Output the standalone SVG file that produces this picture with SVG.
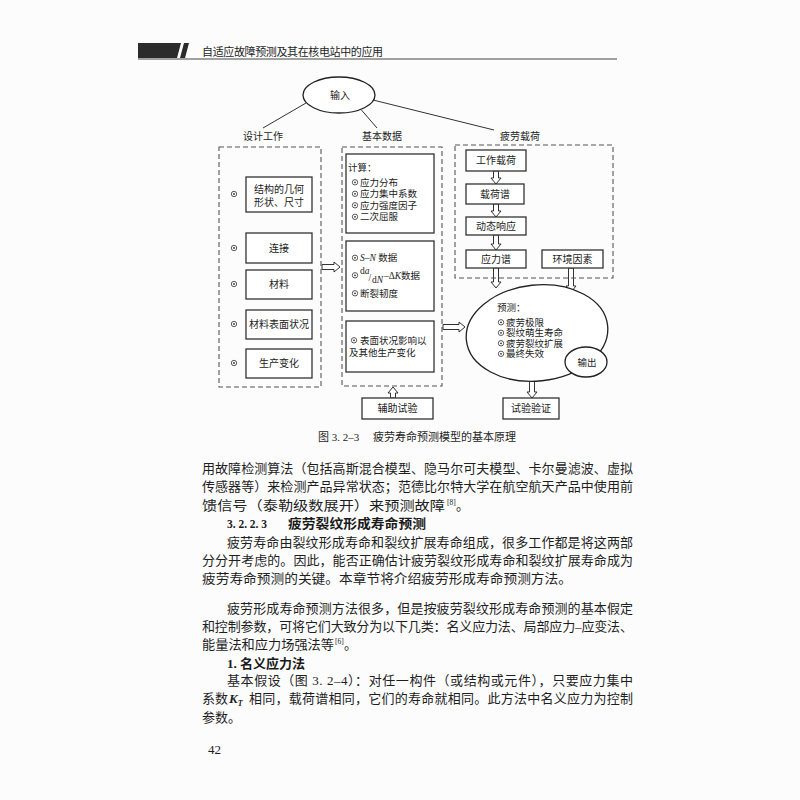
<svg xmlns="http://www.w3.org/2000/svg" width="800" height="800" viewBox="0 0 800 800">
  <style>
    .t { font-family: "Liberation Serif", "Noto Sans CJK SC", serif; fill: #1e1e1e; }
    .d { font-family: "Liberation Serif", "Noto Sans CJK SC", serif; fill: #222; font-size: 10px; }
    .ds { font-family: "Liberation Serif", "Noto Sans CJK SC", serif; fill: #222; font-size: 9.5px; }
    .dp { font-family: "Liberation Serif", "Noto Sans CJK SC", serif; fill: #222; font-size: 9.5px; }
    .h { font-family: "Liberation Serif", "Noto Sans CJK SC", serif; font-weight: bold; fill: #1a1a1a; }
    .box { fill: #fff; stroke: #333; stroke-width: 1.3; }
    .dash { fill: none; stroke: #555; stroke-width: 1.1; stroke-dasharray: 5 3; }
    .ln { stroke: #333; stroke-width: 1; fill: none; }
    .arr { fill: #fff; stroke: #333; stroke-width: 1; stroke-linejoin: miter; }
    .ell { fill: #fff; stroke: #222; stroke-width: 1.3; }
    .bo { fill: none; stroke: #333; stroke-width: 0.8; }
    .bi { fill: #333; }
  </style>
  <defs>
    <g id="bul">
      <circle class="bo" cx="0" cy="0" r="2.7"/>
      <circle class="bi" cx="0" cy="0" r="0.9"/>
    </g>
  </defs>
  <rect x="0" y="0" width="800" height="800" fill="#fcfcfc"/>

  <!-- page header -->
  <g id="header">
    <polygon points="138,43 181,43 177,58 138,58" fill="#2b2b2b"/>
    <polygon points="184,43 189,43 185,58 180,58" fill="#2b2b2b"/>
    <line x1="138" y1="59" x2="617" y2="59" stroke="#444" stroke-width="1.1"/>
    <text class="t" x="202" y="56" font-size="11" textLength="181" lengthAdjust="spacing">自适应故障预测及其在核电站中的应用</text>
  </g>

  <!-- connectors -->
  <g id="connectors">
    <line class="ln" x1="306" y1="103" x2="263" y2="128"/>
    <line class="ln" x1="361" y1="109.5" x2="377" y2="128"/>
    <line class="ln" x1="373" y1="100" x2="494" y2="130"/>
    <polygon class="arr" points="322,264.5 322,269.5 334,269.5 334,272 340,267 334,262 334,264.5"/>
    <polygon class="arr" points="443,324.5 443,329.5 459,329.5 459,332 465,327 459,322 459,324.5"/>
    <polygon class="arr" points="390.5,398 395.5,398 395.5,393 398,393 393,387 388,393 390.5,393"/>
    <polygon class="arr" points="493.5,171 498.5,171 498.5,178 501,178 496,184 491,178 493.5,178"/>
    <polygon class="arr" points="493.5,204 498.5,204 498.5,211 501,211 496,217 491,211 493.5,211"/>
    <polygon class="arr" points="493.5,235 498.5,235 498.5,244 501,244 496,250 491,244 493.5,244"/>
    <polygon class="arr" points="493.5,268 498.5,268 498.5,282 501,282 496,288 491,282 493.5,282"/>
    <polygon class="arr" points="568.5,268 573.5,268 573.5,286 576,286 571,292 566,286 568.5,286"/>
    <polygon class="arr" points="529.5,381 534.5,381 534.5,392 537,392 532,398 527,392 529.5,392"/>
  </g>

  <!-- input -->
  <g id="input">
    <ellipse class="ell" cx="339" cy="95" rx="36" ry="18"/>
    <text class="d" x="340" y="99" text-anchor="middle">输入</text>
  </g>

  <g id="labels">
    <text class="d" x="263" y="140" text-anchor="middle">设计工作</text>
    <text class="d" x="382" y="140" text-anchor="middle">基本数据</text>
    <text class="d" x="520" y="140" text-anchor="middle">疲劳载荷</text>
  </g>

  <!-- design work column -->
  <g id="design">
    <rect class="dash" x="219" y="147" width="102" height="240"/>
    <g id="d1">
      <use href="#bul" x="234" y="194"/>
      <rect class="box" x="246" y="177" width="66" height="35"/>
      <text class="d" x="279" y="193" text-anchor="middle">结构的几何</text>
      <text class="d" x="279" y="206" text-anchor="middle">形状、尺寸</text>
    </g>
    <g id="d2">
      <use href="#bul" x="234" y="248"/>
      <rect class="box" x="246" y="233" width="66" height="30"/>
      <text class="d" x="279" y="251.5" text-anchor="middle">连接</text>
    </g>
    <g id="d3">
      <use href="#bul" x="234" y="284"/>
      <rect class="box" x="246" y="270" width="66" height="29"/>
      <text class="d" x="279" y="288" text-anchor="middle">材料</text>
    </g>
    <g id="d4">
      <use href="#bul" x="234" y="324"/>
      <rect class="box" x="246" y="310" width="66" height="29"/>
      <text class="d" x="279" y="328" text-anchor="middle">材料表面状况</text>
    </g>
    <g id="d5">
      <use href="#bul" x="234" y="363"/>
      <rect class="box" x="246" y="349" width="66" height="29"/>
      <text class="d" x="279" y="367" text-anchor="middle">生产变化</text>
    </g>
  </g>

  <!-- basic data column -->
  <g id="basic">
    <rect class="dash" x="342" y="147" width="100" height="239"/>
    <g id="calc">
      <rect class="box" x="346" y="154" width="88" height="79"/>
      <text class="ds" x="348" y="171">计算：</text>
      <use href="#bul" x="355" y="182.3"/>
      <text class="ds" x="360" y="185.5">应力分布</text>
      <use href="#bul" x="355" y="193.8"/>
      <text class="ds" x="360" y="197">应力集中系数</text>
      <use href="#bul" x="355" y="205.3"/>
      <text class="ds" x="360" y="208.5">应力强度因子</text>
      <use href="#bul" x="355" y="216.8"/>
      <text class="ds" x="360" y="220">二次屈服</text>
    </g>
    <g id="sn">
      <rect class="box" x="346" y="241" width="88" height="70"/>
      <use href="#bul" x="355" y="257.8"/>
      <text class="ds" x="360" y="261"><tspan font-style="italic">S</tspan>–<tspan font-style="italic">N</tspan> 数据</text>
      <use href="#bul" x="355" y="275.3"/>
      <text class="ds" x="360" y="274" font-size="7">d<tspan font-style="italic">a</tspan></text>
      <text class="ds" x="368.5" y="281" font-size="10">/</text>
      <text class="ds" x="372" y="283" font-size="7">d<tspan font-style="italic">N</tspan></text>
      <text class="ds" x="384" y="278.5" font-size="8">–Δ<tspan font-style="italic">K</tspan></text>
      <text class="ds" x="401" y="278.5">数据</text>
      <use href="#bul" x="355" y="293.3"/>
      <text class="ds" x="360" y="296.5">断裂韧度</text>
    </g>
    <g id="surface">
      <rect class="box" x="346" y="321" width="88" height="51"/>
      <use href="#bul" x="354" y="340.3"/>
      <text class="ds" x="360" y="343.5">表面状况影响以</text>
      <text class="ds" x="349" y="355.5">及其他生产变化</text>
    </g>
  </g>

  <!-- fatigue load column -->
  <g id="load">
    <rect class="dash" x="455" y="145" width="158" height="133"/>
    <g id="l1">
      <rect class="box" x="466" y="150" width="60" height="21"/>
      <text class="d" x="496" y="164" text-anchor="middle">工作载荷</text>
    </g>
    <g id="l2">
      <rect class="box" x="466" y="184" width="58" height="20"/>
      <text class="d" x="495" y="197.5" text-anchor="middle">载荷谱</text>
    </g>
    <g id="l3">
      <rect class="box" x="466" y="217" width="60" height="18"/>
      <text class="d" x="496" y="229.5" text-anchor="middle">动态响应</text>
    </g>
    <g id="l4">
      <rect class="box" x="466" y="250" width="60" height="18"/>
      <text class="d" x="496" y="262.5" text-anchor="middle">应力谱</text>
    </g>
    <g id="env">
      <rect class="box" x="542" y="250" width="61" height="18"/>
      <text class="d" x="572.5" y="262.5" text-anchor="middle">环境因素</text>
    </g>
  </g>

  <!-- prediction -->
  <g id="prediction">
    <ellipse class="ell" cx="537" cy="333" rx="71" ry="48" transform="rotate(-6 537 333)"/>
    <text class="dp" x="497" y="310.5">预测：</text>
    <use href="#bul" x="501" y="322.3"/>
    <text class="dp" x="506" y="325.5">疲劳极限</text>
    <use href="#bul" x="501" y="332.8"/>
    <text class="dp" x="506" y="336">裂纹萌生寿命</text>
    <use href="#bul" x="501" y="343.3"/>
    <text class="dp" x="506" y="346.5">疲劳裂纹扩展</text>
    <use href="#bul" x="501" y="353.8"/>
    <text class="dp" x="506" y="357">最终失效</text>
  </g>
  <g id="output">
    <ellipse class="ell" cx="586" cy="362" rx="21" ry="15"/>
    <text class="dp" x="587" y="365.5" text-anchor="middle">输出</text>
  </g>

  <g id="aux">
    <rect class="box" x="362" y="398" width="71" height="21"/>
    <text class="d" x="397.5" y="412" text-anchor="middle">辅助试验</text>
  </g>
  <g id="verify">
    <rect class="box" x="503" y="398" width="56" height="21"/>
    <text class="d" x="531" y="412" text-anchor="middle">试验验证</text>
  </g>

  <g id="caption">
    <text class="t" x="318" y="441" font-size="11">图 3. 2–3　 疲劳寿命预测模型的基本原理</text>
  </g>

  <!-- body text -->
  <g id="body" font-size="13">
    <text class="t" x="202" y="472.5" textLength="431" lengthAdjust="spacing">用故障检测算法（包括高斯混合模型、隐马尔可夫模型、卡尔曼滤波、虚拟</text>
    <text class="t" x="202" y="491" textLength="431" lengthAdjust="spacing">传感器等）来检测产品异常状态；范德比尔特大学在航空航天产品中使用前</text>
    <text class="t" x="202" y="509.5" textLength="243" lengthAdjust="spacingAndGlyphs">馈信号（泰勒级数展开）来预测故障</text>
    <text class="t" x="447" y="504.5" font-size="7.5">[8]</text>
    <text class="t" x="456" y="509.5">。</text>
    <text class="h" x="227" y="528" font-size="12.5" textLength="40" lengthAdjust="spacingAndGlyphs">3. 2. 2. 3</text>
    <text class="h" x="288" y="528" font-size="13" textLength="138" lengthAdjust="spacingAndGlyphs">疲劳裂纹形成寿命预测</text>
    <text class="t" x="227" y="546.5" textLength="406" lengthAdjust="spacing">疲劳寿命由裂纹形成寿命和裂纹扩展寿命组成，很多工作都是将这两部</text>
    <text class="t" x="202" y="564.5" textLength="431" lengthAdjust="spacing">分分开考虑的。因此，能否正确估计疲劳裂纹形成寿命和裂纹扩展寿命成为</text>
    <text class="t" x="202" y="582.5" textLength="370" lengthAdjust="spacingAndGlyphs">疲劳寿命预测的关键。本章节将介绍疲劳形成寿命预测方法。</text>
    <text class="t" x="227" y="612.5" textLength="406" lengthAdjust="spacing">疲劳形成寿命预测方法很多，但是按疲劳裂纹形成寿命预测的基本假定</text>
    <text class="t" x="202" y="631" textLength="431" lengthAdjust="spacing">和控制参数，可将它们大致分为以下几类：名义应力法、局部应力–应变法、</text>
    <text class="t" x="202" y="649" textLength="132" lengthAdjust="spacingAndGlyphs">能量法和应力场强法等</text>
    <text class="t" x="335" y="644" font-size="7.5">[6]</text>
    <text class="t" x="344" y="649">。</text>
    <text class="h" x="227" y="667.5">1. 名义应力法</text>
    <text class="t" x="227" y="685" textLength="406" lengthAdjust="spacing">基本假设（图 3. 2–4）：对任一构件（或结构或元件），只要应力集中</text>
    <text class="t" x="202" y="703">系数</text>
    <text class="t" x="229" y="703" font-style="italic" font-weight="bold">K<tspan font-size="8" dy="3">T</tspan></text>
    <text class="t" x="249" y="703" textLength="384" lengthAdjust="spacing">相同，载荷谱相同，它们的寿命就相同。此方法中名义应力为控制</text>
    <text class="t" x="202" y="721.5">参数。</text>
    <text class="t" x="208" y="754">42</text>
  </g>
</svg>
